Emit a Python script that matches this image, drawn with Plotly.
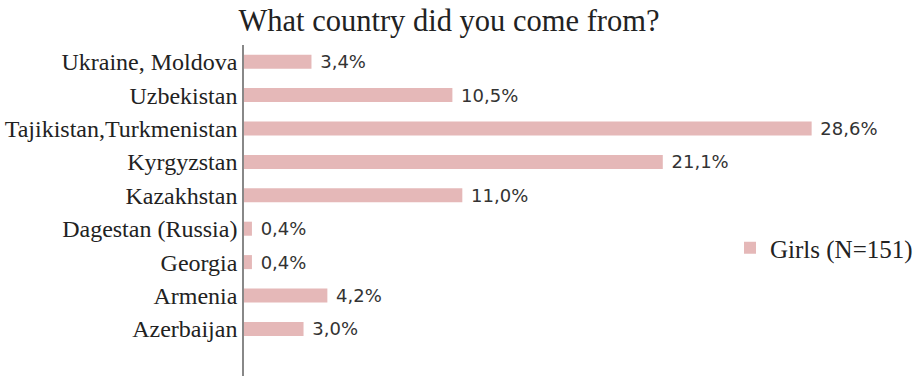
import plotly.graph_objects as go

categories = ["Ukraine, Moldova", "Uzbekistan", "Tajikistan,Turkmenistan", "Kyrgyzstan",
              "Kazakhstan", "Dagestan (Russia)", "Georgia", "Armenia", "Azerbaijan"]
values = [3.4, 10.5, 28.6, 21.1, 11.0, 0.4, 0.4, 4.2, 3.0]
series_name = "Girls (N=151)"
title_text = "What country did you come from?"

labels = [" " + f"{v:.1f}".replace(".", ",") + "%" for v in values]

fig = go.Figure()
fig.add_trace(go.Bar(
    y=categories, x=values, orientation="h", name=series_name,
    marker=dict(color="#e5b8b8", line=dict(width=0)),
    width=0.42,
    text=labels, textposition="outside", cliponaxis=False, constraintext="none",
    textfont=dict(family="DejaVu Sans", size=18, color="#333333"),
    showlegend=True,
))

fig.update_layout(
    width=915, height=376,
    margin=dict(l=244, r=45, t=45, b=0, autoexpand=False),
    paper_bgcolor="white", plot_bgcolor="white",
    title=dict(text=title_text, x=449/915, xref="container", xanchor="center",
               y=1-20/376, yref="container", yanchor="middle",
               font=dict(family="Liberation Serif", size=30.5, color="#222222")),
    xaxis=dict(range=[0, 31.54], visible=False, showgrid=False, zeroline=False),
    yaxis=dict(type="category", range=[9.41, -0.5], showgrid=False, zeroline=False,
               showline=True, linecolor="#888888", linewidth=1.5, ticks="",
               tickfont=dict(family="Liberation Serif", size=24, color="#222222")),
    legend=dict(x=(730-244)/626, xref="paper", xanchor="left", y=1-(248-45)/331, yref="paper",
                yanchor="middle", font=dict(family="Liberation Serif", size=25, color="#222222"),
                bgcolor="rgba(0,0,0,0)"),
    showlegend=True,
)

fig.write_html("out.html")
